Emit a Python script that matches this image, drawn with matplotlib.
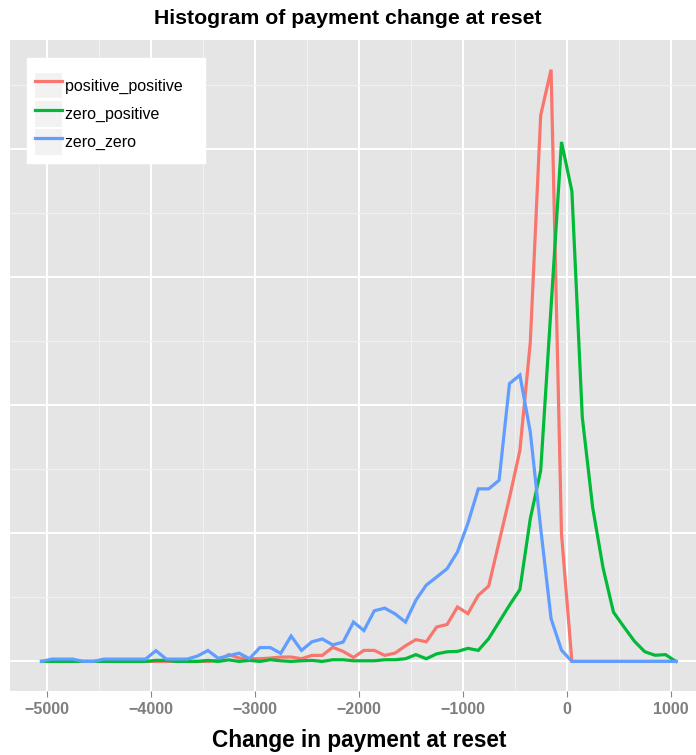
import numpy as np
import matplotlib
matplotlib.use('Agg')
import matplotlib.pyplot as plt
from matplotlib.lines import Line2D
from matplotlib.patches import Patch
from matplotlib.ticker import MultipleLocator

plt.rcParams['font.family'] = ['Liberation Sans', 'DejaVu Sans']

# frequency polygon, binwidth 100, one empty bin padded at each end
bin_centers = np.arange(-5050, 1051, 100)

positive_positive = [0, 0, 0, 0, 0, 0, 0, 0, 0, 0,
                     0, 0, 0, 0, 0, 0, 0, 0.8, 5.3, 2.6,
                     2.1, 2.1, 2.6, 3.4, 3.4, 2.1, 4.7, 4.7, 11.0, 7.8,
                     3.1, 8.6, 8.6, 4.7, 6.5, 12.2, 17.0, 15.3, 26.9, 28.8,
                     42.5, 37.3, 51.6, 58.8, 93.3, 127.8, 164.7, 249.0, 426.3, 462.0,
                     99.6, 0, 0, 0, 0, 0, 0, 0, 0, 0,
                     0, 0]

zero_positive = [0, 0, 0, 0, 0, 0, 0, 0, 0, 0,
                 0, 0.8, 0.8, 0, 0, 0, 0.8, 0, 1.2, 0,
                 0.8, 0, 1.3, 0.5, 0, 0.5, 0.8, 0, 1.3, 1.3,
                 0.5, 0.5, 0.5, 1.3, 1.3, 2.1, 5.3, 2.1, 5.9, 7.5,
                 7.8, 10.2, 8.6, 17.8, 30.8, 43.9, 56.1, 111.4, 149.0, 276.9,
                 405.5, 367.1, 190.6, 120.0, 72.9, 38.4, 27.0, 15.9, 7.6, 4.8,
                 5.3, 0]

zero_zero = [0, 1.8, 1.8, 1.8, 0, 0, 1.8, 1.8, 1.8, 1.8,
             1.8, 8.4, 1.8, 1.8, 1.8, 4.2, 8.5, 2.4, 4.5, 6.4,
             2.1, 10.8, 10.8, 6.3, 19.8, 8.6, 15.3, 17.5, 12.9, 15.1,
             30.7, 24.1, 39.5, 41.6, 37.1, 30.7, 47.8, 59.6, 65.9, 72.4,
             85.5, 107.8, 134.7, 134.7, 141.4, 216.9, 223.5, 179.1, 103.9, 33.3,
             8.8, 0, 0, 0, 0, 0, 0, 0, 0, 0,
             0, 0]

series = [('positive_positive', positive_positive, '#F8766D'),
          ('zero_positive', zero_positive, '#00BA38'),
          ('zero_zero', zero_zero, '#619CFF')]

fig = plt.figure(figsize=(6.96, 7.55), dpi=100)
# panel runs a little past the right edge of the picture, like the original
ax = fig.add_axes([9.8 / 696, 64 / 755, 697.8 / 696, 651 / 755])
ax.set_facecolor('#E5E5E5')
for s in ax.spines.values():
    s.set_visible(False)

ymax = max(max(v) for _, v, _ in series)
xspan = bin_centers[-1] - bin_centers[0]
ax.set_xlim(bin_centers[0] - 0.05 * xspan, bin_centers[-1] + 0.05 * xspan)
ax.set_ylim(-0.05 * ymax, 1.05 * ymax)

ax.xaxis.set_major_locator(MultipleLocator(1000))
ax.xaxis.set_minor_locator(MultipleLocator(500))
ax.yaxis.set_major_locator(MultipleLocator(100))
ax.yaxis.set_minor_locator(MultipleLocator(50))
ax.grid(which='major', color='white', linewidth=1.4)
ax.grid(which='minor', color='#F2F2F2', linewidth=0.7)
ax.set_axisbelow(True)

for name, vals, col in series:
    ax.plot(bin_centers, vals, color=col, linewidth=2.3, label=name,
            solid_joinstyle='miter')

ax.tick_params(axis='y', which='both', left=False, labelleft=False)
ax.tick_params(axis='x', which='minor', bottom=False)
ax.tick_params(axis='x', which='major', length=4.5, width=0.8, color='#8A8A8A',
               pad=3.5, labelsize=11.5, labelcolor='#7F7F7F')
for lab in ax.get_xticklabels():
    lab.set_fontweight('bold')

ax.set_xlabel('Change in payment at reset', fontsize=16.3, fontweight='bold')
ax.xaxis.set_label_coords(0.5, (691 - 740) / 651)
ax.xaxis.label.set_va('center')

fig.suptitle('Histogram of payment change at reset', x=0.5, y=1 - 18 / 755,
             va='center', fontsize=15.3, fontweight='bold')

# ggplot keeps an empty title row above the keys and some room to the right
handles = [(Patch(facecolor='#F2F2F2', edgecolor='none'),
            Line2D([], [], color=col, linewidth=2.3)) for _, _, col in series]
leg = ax.legend(handles, [n + '   ' for n, _, _ in series], loc='upper left',
                bbox_to_anchor=(27 / 696, 1 - 58 / 755), bbox_transform=fig.transFigure,
                borderaxespad=0, fontsize=11.5, frameon=True, fancybox=False,
                framealpha=1, edgecolor='white', facecolor='white',
                handlelength=1.7, handleheight=2.1, labelspacing=0.16,
                handletextpad=0.2, borderpad=0.5, title=' ', title_fontsize=3)

fig.savefig('out.png', dpi=100)
